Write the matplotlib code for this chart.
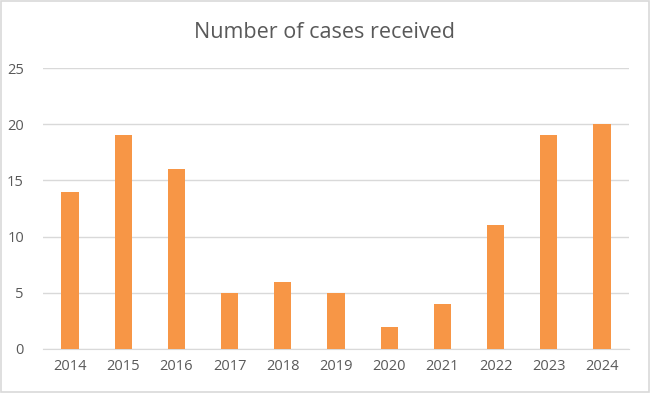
import matplotlib.pyplot as plt
from matplotlib.patches import Rectangle

years = ['2014', '2015', '2016', '2017', '2018', '2019', '2020', '2021', '2022', '2023', '2024']
cases = [14, 19, 16, 5, 6, 5, 2, 4, 11, 19, 20]

plt.rcParams['font.family'] = ['Open Sans', 'DejaVu Sans']

fig = plt.figure(figsize=(6.5, 3.93), dpi=100)
ax = fig.add_axes([43.4 / 650, 1 - 349 / 393, 585.2 / 650, 281 / 393])

x = range(len(years))
ax.bar(x, cases, width=0.32, color='#F79646', zorder=3)

ax.set_xlim(-0.5, len(years) - 0.5)
ax.set_ylim(0, 25)
ax.set_yticks([0, 5, 10, 15, 20, 25])
ax.set_xticks(list(x))
ax.set_xticklabels(years)
ax.yaxis.grid(True, color='#D9D9D9', linewidth=1, zorder=0)
for s in ['top', 'right', 'left']:
    ax.spines[s].set_visible(False)
ax.spines['bottom'].set_color('#D9D9D9')
ax.tick_params(axis='both', length=0, colors='#595959', labelsize=10.5)
ax.tick_params(axis='x', pad=7)
ax.tick_params(axis='y', pad=14)

fig.text(0.5, 1 - 32 / 393, 'Number of cases received', ha='center', va='center',
         fontsize=15.5, color='#595959')

fig.patches.append(Rectangle((0.002, 0.003), 0.996, 0.994, transform=fig.transFigure,
                             fill=False, edgecolor='#D9D9D9', linewidth=1.2))

fig.savefig('out.png', dpi=100)
